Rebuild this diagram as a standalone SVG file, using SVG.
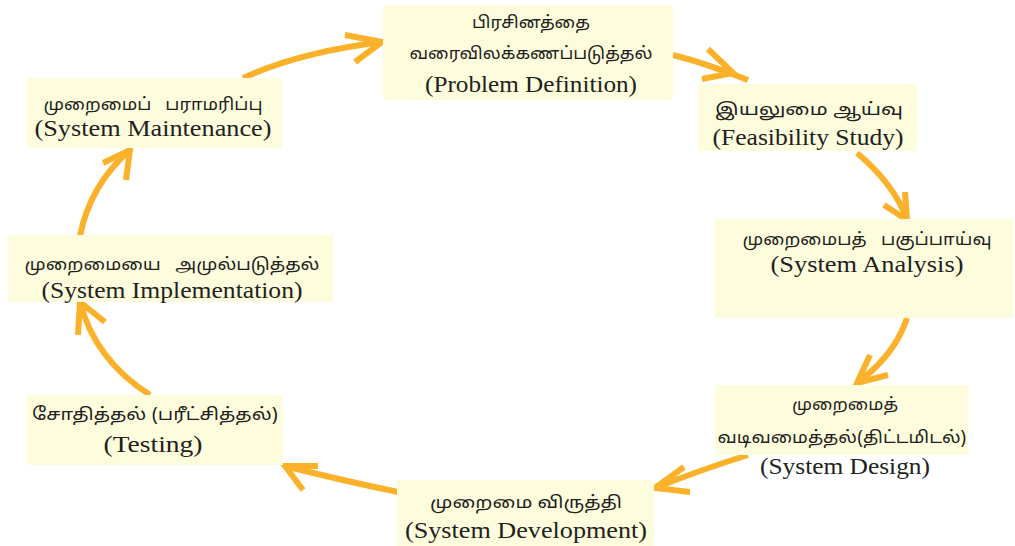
<svg xmlns="http://www.w3.org/2000/svg" width="1015" height="546" viewBox="0 0 1015 546">
<defs>
<style>
.box{fill:#FDFCDD;stroke:none}
.ta{font-family:"Noto Sans Tamil","Lohit Tamil","Noto Sans",sans-serif;font-size:17px;fill:#231f20;text-anchor:middle;white-space:pre}
.en{font-family:"Liberation Serif","Times New Roman",serif;font-size:24px;fill:#231f20;text-anchor:middle}
.arr{fill:none;stroke:#FBB22A;stroke-width:6;stroke-linecap:butt;stroke-linejoin:miter}
</style>
</defs>
<rect width="1015" height="546" fill="#ffffff"/>
<g id="connectors">
<path class="arr" d="M243,78 Q300,52 382,42"/>
<path class="arr" d="M345,35 L382,42 L355,62"/>
<path class="arr" d="M673,55 Q705,63 748,80"/>
<path class="arr" d="M708,49 L733,73 L702,79"/>
<path class="arr" d="M857,153 Q895,185 907,220"/>
<path class="arr" d="M905,192 L907,220 L884,205"/>
<path class="arr" d="M907,318 Q895,355 857,383"/>
<path class="arr" d="M870,355 L857,383 L888,375"/>
<path class="arr" d="M748,455 Q700,470 655,488"/>
<path class="arr" d="M684,467 L655,488 L690,492"/>
<path class="arr" d="M398,492 Q340,480 285,466"/>
<path class="arr" d="M318,466 L285,466 L303,490"/>
<path class="arr" d="M150,395 Q95,360 80,302"/>
<path class="arr" d="M78,335 L80,302 L105,322"/>
<path class="arr" d="M80,236 Q90,185 130,150"/>
<path class="arr" d="M103,163 L130,150 L126,180"/>
</g>
<g id="problem-definition">
<rect class="box" x="383" y="5" width="290" height="95"/>
<text class="ta" x="531" y="28" textLength="118" lengthAdjust="spacingAndGlyphs">பிரசினத்தை</text>
<text class="ta" x="531" y="59" textLength="243" lengthAdjust="spacingAndGlyphs">வரைவிலக்கணப்படுத்தல்</text>
<text class="en" x="531" y="92" textLength="212" lengthAdjust="spacingAndGlyphs">(Problem Definition)</text>
</g>
<g id="feasibility-study">
<rect class="box" x="698" y="84" width="219" height="67"/>
<text class="ta" x="809" y="115" textLength="188" lengthAdjust="spacingAndGlyphs">இயலுமை ஆய்வு</text>
<text class="en" x="808" y="145" textLength="191" lengthAdjust="spacingAndGlyphs">(Feasibility Study)</text>
</g>
<g id="system-analysis">
<rect class="box" x="715" y="219" width="298" height="99"/>
<text class="ta" x="867" y="245" textLength="249" lengthAdjust="spacingAndGlyphs" xml:space="preserve">முறைமைபத்   பகுப்பாய்வு</text>
<text class="en" x="867" y="272" textLength="193" lengthAdjust="spacingAndGlyphs">(System Analysis)</text>
</g>
<g id="system-design">
<rect class="box" x="715" y="385" width="253" height="70"/>
<text class="ta" x="845" y="410" textLength="106" lengthAdjust="spacingAndGlyphs">முறைமைத்</text>
<text class="ta" x="842" y="443" textLength="249" lengthAdjust="spacingAndGlyphs">வடிவமைத்தல்(திட்டமிடல்)</text>
<text class="en" x="845" y="474" textLength="170" lengthAdjust="spacingAndGlyphs">(System Design)</text>
</g>
<g id="system-development">
<rect class="box" x="397" y="480" width="257" height="66"/>
<text class="ta" x="526" y="508" textLength="192" lengthAdjust="spacingAndGlyphs">முறைமை விருத்தி</text>
<text class="en" x="526" y="538" textLength="242" lengthAdjust="spacingAndGlyphs">(System Development)</text>
</g>
<g id="testing">
<rect class="box" x="27" y="395" width="256" height="70"/>
<text class="ta" x="155" y="420" textLength="246" lengthAdjust="spacingAndGlyphs">சோதித்தல் (பரீட்சித்தல்)</text>
<text class="en" x="153" y="452" textLength="99" lengthAdjust="spacingAndGlyphs">(Testing)</text>
</g>
<g id="system-implementation">
<rect class="box" x="8" y="235" width="325" height="67"/>
<text class="ta" x="172" y="270" textLength="295" lengthAdjust="spacingAndGlyphs" xml:space="preserve">முறைமையை   அமுல்படுத்தல்</text>
<text class="en" x="172" y="298" textLength="261" lengthAdjust="spacingAndGlyphs">(System Implementation)</text>
</g>
<g id="system-maintenance">
<rect class="box" x="27" y="78" width="255" height="70"/>
<text class="ta" x="153" y="110" textLength="219" lengthAdjust="spacingAndGlyphs" xml:space="preserve">முறைமைப்   பராமரிப்பு</text>
<text class="en" x="153" y="136" textLength="237" lengthAdjust="spacingAndGlyphs">(System Maintenance)</text>
</g>
</svg>
